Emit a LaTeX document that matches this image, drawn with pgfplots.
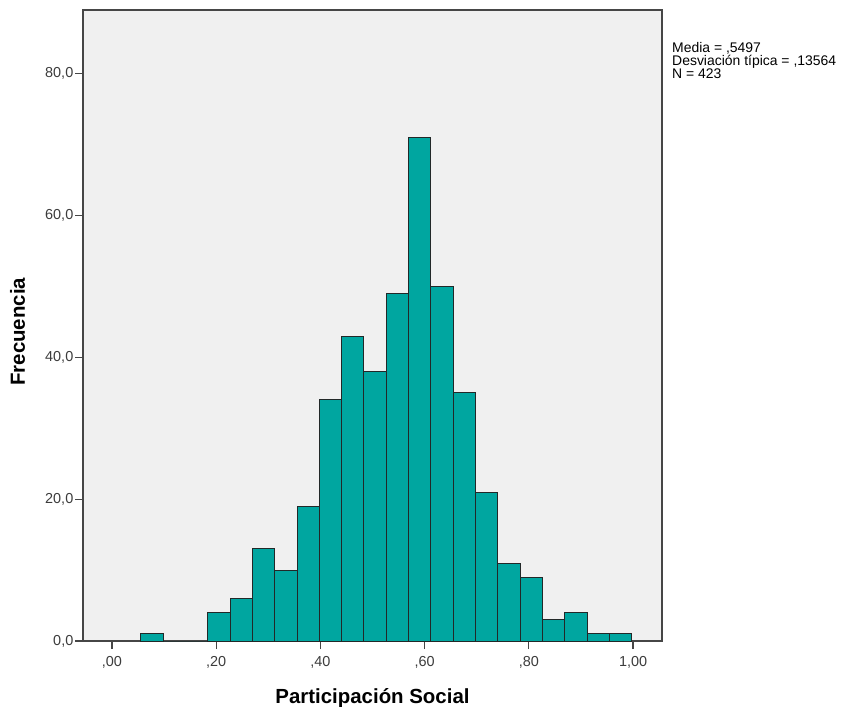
\documentclass[border=0pt]{standalone}
\usepackage{fontspec}
\setmainfont{Liberation Sans}
\usepackage{pgfplots}
\pgfplotsset{compat=1.18}

\definecolor{barfill}{RGB}{0,166,160}
\definecolor{baredge}{RGB}{34,40,40}
\definecolor{plotbg}{RGB}{240,240,240}
\definecolor{framecol}{RGB}{70,70,70}
\definecolor{ticktext}{RGB}{60,60,60}

\begin{document}
\begin{tikzpicture}
	\begin{axis}[
			at={(0,0)}, anchor=south west,
			scale only axis,
			width=579bp, height=631bp,
			xmin=-0.0556, xmax=1.0555,
			ymin=0, ymax=89,
			axis background/.style={fill=plotbg},
			axis line style={draw=framecol, line width=1.5bp},
			xtick={0,0.2,0.4,0.6,0.8,1},
			xticklabels={{,00},{,20},{,40},{,60},{,80},{1,00}},
			ytick={0,20,40,60,80},
			yticklabels={{0,0},{20,0},{40,0},{60,0},{80,0}},
			tick align=outside,
			xtick pos=bottom, ytick pos=left,
			major tick length=8bp,
			tick style={draw=framecol, line width=1.2bp},
			tick label style={font=\fontsize{14.5}{16}\selectfont, text=ticktext},
			xticklabel style={yshift=-4bp},
			yticklabel style={inner xsep=1.5bp},
			xlabel={Participación Social},
			ylabel={Frecuencia},
			label style={font=\bfseries\fontsize{20.5}{22}\selectfont},
			xlabel style={at={(axis description cs:0.5,0)}, anchor=base, yshift=-62bp},
			ylabel style={at={(axis description cs:0,0.49)}, anchor=base, yshift=58bp},
			clip=false
		]

		% histogram, bin edges and counts
		\addplot[ybar interval, fill=barfill, draw=baredge, line width=1bp] coordinates {
				(0.0553,1) (0.0981,0) (0.1410,0) (0.1838,4) (0.2266,6)
				(0.2695,13) (0.3123,10) (0.3551,19) (0.3979,34) (0.4408,43)
				(0.4836,38) (0.5264,49) (0.5693,71) (0.6121,50) (0.6549,35)
				(0.6978,21) (0.7406,11) (0.7834,9) (0.8262,3) (0.8691,4)
				(0.9119,1) (0.9547,1) (0.9976,0)
			};

		% summary statistics
		\node[anchor=base west, inner sep=0, font=\fontsize{14}{14}\selectfont]
			at (rel axis cs:1,1) [xshift=10bp, yshift=-42bp] {Media = ,5497};
		\node[anchor=base west, inner sep=0, font=\fontsize{14}{14}\selectfont]
			at (rel axis cs:1,1) [xshift=10bp, yshift=-55bp] {Desviación típica = ,13564};
		\node[anchor=base west, inner sep=0, font=\fontsize{14}{14}\selectfont]
			at (rel axis cs:1,1) [xshift=10bp, yshift=-68bp] {N = 423};
	\end{axis}
	\pgfresetboundingbox
	\useasboundingbox (-83bp,-66bp) rectangle (771bp,641bp);
\end{tikzpicture}
\end{document}
